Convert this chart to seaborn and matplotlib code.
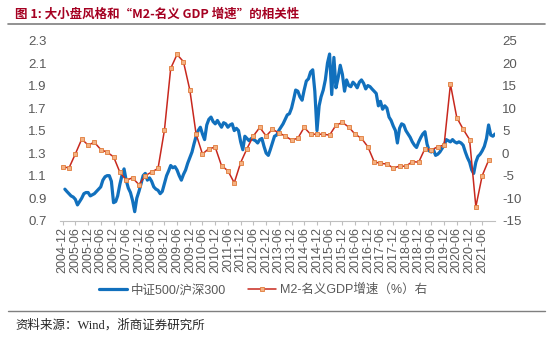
import matplotlib
matplotlib.use("Agg")
import matplotlib.pyplot as plt
import seaborn as sns
import numpy as np
import pandas as pd
from matplotlib.lines import Line2D
from matplotlib.ticker import FormatStrFormatter

# 中证500/沪深300 ratio, month-end values from 2005-01
ratio_500_300 = [
    0.98, 0.96, 0.94, 0.92, 0.91, 0.89, 0.84, 0.87, 0.90, 0.94, 0.95, 0.95,
    0.92, 0.93, 0.94, 0.96, 0.98, 1.00, 1.06, 1.09, 1.10, 1.10, 1.05, 0.86,
    0.87, 0.92, 1.02, 1.10, 1.16, 1.06, 0.99, 0.95, 0.88, 0.78, 0.90, 0.96,
    1.03, 1.10, 1.12, 1.06, 1.08, 1.05, 1.00, 0.98, 0.97, 0.94, 0.96, 1.03,
    1.10, 1.14, 1.19, 1.17, 1.18, 1.15, 1.10, 1.06, 1.11, 1.15, 1.21, 1.26,
    1.31, 1.38, 1.45, 1.50, 1.53, 1.47, 1.42, 1.55, 1.60, 1.62, 1.58, 1.56,
    1.59, 1.56, 1.53, 1.57, 1.56, 1.53, 1.55, 1.56, 1.50, 1.52, 1.50, 1.40,
    1.33, 1.45, 1.43, 1.41, 1.43, 1.42, 1.41, 1.39, 1.42, 1.43, 1.36, 1.30,
    1.28, 1.33, 1.39, 1.45, 1.46, 1.50, 1.53, 1.56, 1.60, 1.64, 1.65, 1.70,
    1.78, 1.86, 1.85, 1.80, 1.77, 1.86, 1.94, 1.96, 2.02, 2.04, 1.85, 1.50,
    1.72, 1.80, 1.86, 1.95, 2.10, 2.18, 1.82, 2.15, 1.88, 1.97, 2.08, 2.00,
    1.85, 1.95, 1.90, 1.89, 1.93, 1.91, 1.88, 1.93, 1.95, 1.92, 1.87, 1.90,
    1.89, 1.87, 1.85, 1.83, 1.72, 1.76, 1.69, 1.72, 1.70, 1.62, 1.59, 1.54,
    1.50, 1.39, 1.52, 1.56, 1.55, 1.50, 1.47, 1.44, 1.40, 1.37, 1.35, 1.40,
    1.44, 1.47, 1.49, 1.38, 1.32, 1.31, 1.33, 1.28, 1.29, 1.31, 1.34, 1.37,
    1.42, 1.41, 1.40, 1.42, 1.40, 1.39, 1.40, 1.39, 1.37, 1.31, 1.26, 1.22,
    1.15, 1.12, 1.22, 1.27, 1.29, 1.32, 1.36, 1.43, 1.55, 1.46, 1.45, 1.47,
]

# M2 growth minus nominal GDP growth (%), quarterly from 2004Q4
m2_minus_gdp = [
    -3.0, -3.3, -0.2, 3.1, 1.8, 2.4, 0.8, 0.2, -0.8, -4.2, -6.0, -5.5,
    -7.0, -5.0, -4.2, -3.4, 5.1, 18.8, 21.9, 20.3, 14.0, 4.2, -0.2, 1.0,
    1.3, -2.8, -3.9, -6.6, -2.1, 1.0, 3.8, 5.7, 3.8, 5.3, 4.5, 3.8,
    2.9, 3.3, 5.7, 4.2, 4.2, 4.2, 4.0, 6.2, 6.8, 5.8, 4.2, 3.3,
    1.4, -1.9, -2.3, -2.4, -3.3, -2.9, -2.9, -1.9, -2.0, 1.0, 0.7, 1.4,
    1.8, 15.3, 7.9, 5.3, 3.0, -11.9, -5.0, -1.6,
]

x_tick_labels = [
    "2004-12", "2005-06", "2005-12", "2006-06", "2006-12", "2007-06",
    "2007-12", "2008-06", "2008-12", "2009-06", "2009-12", "2010-06",
    "2010-12", "2011-06", "2011-12", "2012-06", "2012-12", "2013-06",
    "2013-12", "2014-06", "2014-12", "2015-06", "2015-12", "2016-06",
    "2016-12", "2017-06", "2017-12", "2018-06", "2018-12", "2019-06",
    "2019-12", "2020-06", "2020-12", "2021-06",
]

left_ticks = [0.7, 0.9, 1.1, 1.3, 1.5, 1.7, 1.9, 2.1, 2.3]
right_ticks = [-15, -10, -5, 0, 5, 10, 15, 20, 25]

series_names = ["中证500/沪深300", "M2-名义GDP增速（%）右"]
title = "图 1: 大小盘风格和“M2-名义 GDP 增速”的相关性"
source = "资料来源：Wind，浙商证券研究所"

BLUE = "#1170BD"
RED = "#C8281E"
MARKER_FACE = "#F4B183"
MARKER_EDGE = "#E07B39"
GREY_TXT = "#595959"

sns.set_theme(style="white")
plt.rcParams["font.family"] = ["Liberation Sans", "Noto Sans CJK SC", "DejaVu Sans"]
plt.rcParams["axes.unicode_minus"] = False

month_dates = pd.period_range("2005-01", periods=len(ratio_500_300), freq="M").to_timestamp(how="end").normalize()
quarter_dates = pd.period_range("2004Q4", periods=len(m2_minus_gdp), freq="Q").to_timestamp(how="end").normalize()
tick_dates = [pd.Period(s, freq="M").to_timestamp(how="end").normalize() for s in x_tick_labels]

fig = plt.figure(figsize=(5.5, 3.38), dpi=100)
W, H = 550.0, 338.0
ax = fig.add_axes([60 / W, 1 - 220.7 / H, (495 - 60) / W, (220.7 - 40.5) / H])
ax2 = ax.twinx()

sns.lineplot(x=month_dates, y=ratio_500_300, ax=ax, color=BLUE, linewidth=2.3)
sns.lineplot(x=quarter_dates, y=m2_minus_gdp, ax=ax2, color=RED, linewidth=1.1,
             marker="s", markersize=2.9, markerfacecolor=MARKER_FACE,
             markeredgecolor=MARKER_EDGE, markeredgewidth=0.6)

ax.set_xlim(pd.Timestamp("2004-11-22"), pd.Timestamp("2021-12-31"))
ax.set_ylim(0.7, 2.3)
ax.set_yticks(left_ticks)
ax.yaxis.set_major_formatter(FormatStrFormatter("%.1f"))
ax2.set_ylim(-15, 25)
ax2.set_yticks(right_ticks)

ax.set_xticks(tick_dates)
ax.set_xticklabels(x_tick_labels, rotation=90)
for a in (ax, ax2):
    a.set_xlabel("")
    a.set_ylabel("")
    for side in ("left", "right", "top"):
        a.spines[side].set_visible(False)
ax2.spines["bottom"].set_visible(False)
ax.spines["bottom"].set_color("#BFBFBF")
ax.spines["bottom"].set_linewidth(0.8)

ax.tick_params(axis="x", length=3, width=0.8, color="#BFBFBF", labelsize=9,
               labelcolor=GREY_TXT, pad=1.5, bottom=True)
ax.tick_params(axis="y", length=0, labelsize=9.5, labelcolor=GREY_TXT, pad=9.5)
ax2.tick_params(axis="y", length=0, labelsize=9.5, labelcolor=GREY_TXT, pad=5)

# title, rules and source note
fig.text(15 / W, 1 - 14 / H, title, fontsize=9, fontweight="bold",
         family=["Noto Sans CJK SC", "Liberation Sans"],
         color="#A50021", ha="left", va="center")
fig.add_artist(Line2D([8 / W, 545 / W], [1 - 24 / H] * 2, color="#7F7F7F",
                      lw=1.2, transform=fig.transFigure))
fig.add_artist(Line2D([8 / W, 545 / W], [1 - 310.7 / H] * 2, color="#7F7F7F",
                      lw=1.0, transform=fig.transFigure))
fig.text(15 / W, 1 - 325 / H, source, fontsize=9,
         family=["Liberation Serif", "Noto Sans CJK SC"], color="#262626",
         ha="left", va="center")

handles = [
    Line2D([], [], color=BLUE, lw=2.3),
    Line2D([], [], color=RED, lw=1.1, marker="s", markersize=2.9,
           markerfacecolor=MARKER_FACE, markeredgecolor=MARKER_EDGE,
           markeredgewidth=0.6),
]
leg = fig.legend(handles, series_names, loc="center",
                 bbox_to_anchor=(263 / W, 1 - 290 / H), ncol=2, frameon=False,
                 fontsize=9, handlelength=2.2, handletextpad=0.3,
                 columnspacing=1.8, numpoints=1)
for t in leg.get_texts():
    t.set_color(GREY_TXT)

fig.savefig("out.png", dpi=100)
